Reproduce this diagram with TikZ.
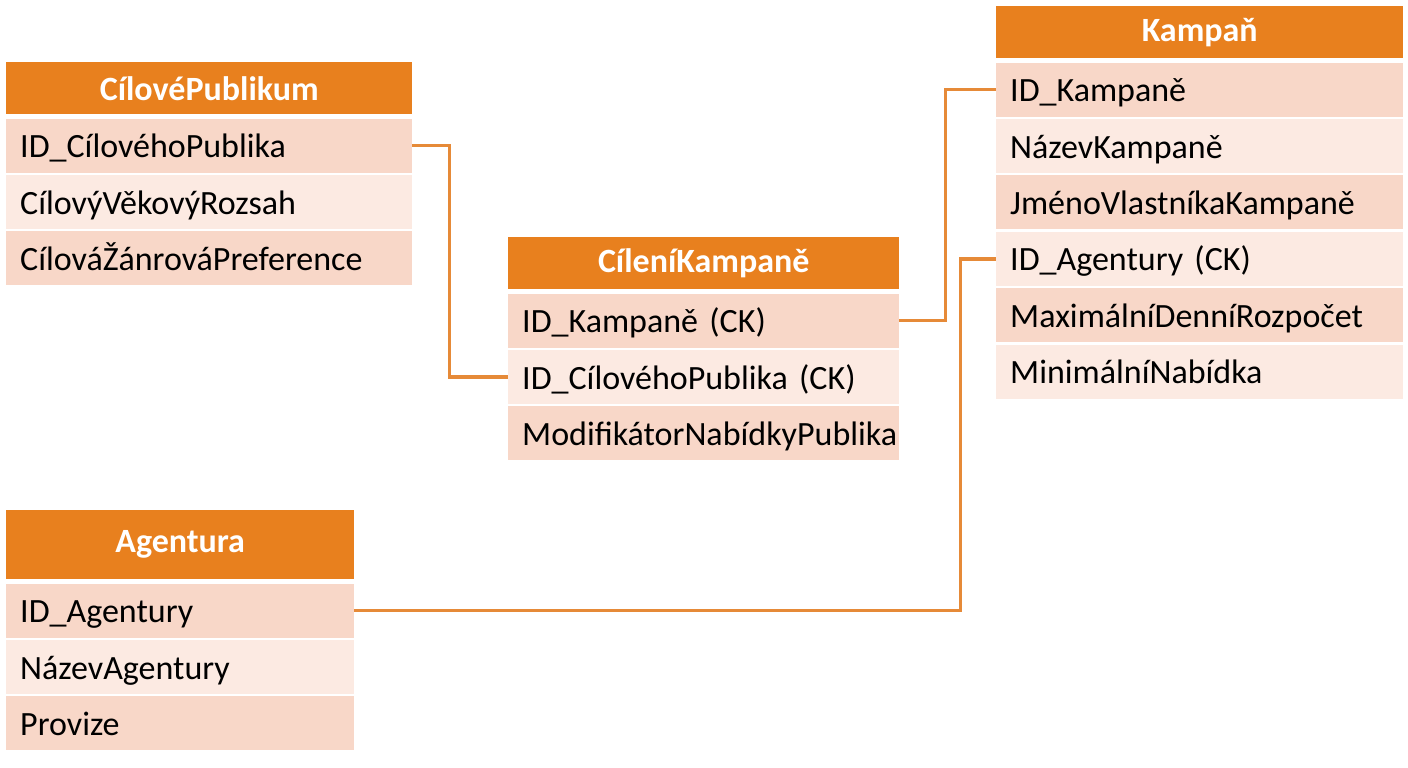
\documentclass[tikz,border=0pt]{standalone}
\usepackage{fontspec}
\setmainfont{Carlito}
\usepackage{tikz}
\usetikzlibrary{positioning}

\definecolor{hdorange}{RGB}{232,128,30}
\definecolor{rowD}{RGB}{248,215,200}
\definecolor{rowL}{RGB}{252,234,226}
\definecolor{linkor}{RGB}{230,138,56}

\tikzset{
  head/.style={fill=hdorange, text=white, font=\bfseries\fontsize{34}{40}\selectfont,
    minimum width=#1, minimum height=52pt, inner sep=0pt, anchor=north west},
  row/.style={font=\fontsize{34}{40}\selectfont, minimum height=54pt, inner ysep=0pt,
    inner xsep=14pt, align=left, text width=#1-28pt, text height=28pt, text depth=4pt},
  rowdark/.style={row=#1, fill=rowD},
  rowlight/.style={row=#1, fill=rowL},
  link/.style={draw=linkor, line width=3.5pt}
}

\begin{document}
\begin{tikzpicture}[x=1pt,y=-1pt]
\useasboundingbox[fill=white] (0,0) rectangle (1408,768);

% CilovePublikum
\node[head=406pt] (cpHead) at (6,62) {CílovéPublikum};
\node[rowdark=406pt,below=4pt of cpHead] (cp1) {ID\_CílovéhoPublika};
\node[rowlight=406pt,below=2pt of cp1] (cp2) {CílovýVěkovýRozsah};
\node[rowdark=406pt,below=2pt of cp2] (cp3) {CílováŽánrováPreference};

% CileniKampane
\node[head=391pt] (ckHead) at (508,237) {CíleníKampaně};
\node[rowdark=391pt,below=4pt of ckHead] (ck1) {ID\_Kampaně (CK)};
\node[rowlight=391pt,below=2pt of ck1] (ck2) {ID\_CílovéhoPublika (CK)};
\node[rowdark=391pt,below=2pt of ck2] (ck3) {ModifikátorNabídkyPublika};

% Kampan
\node[head=407pt] (kHead) at (996,6) {Kampaň};
\node[rowdark=407pt,below=4pt of kHead] (k1) {ID\_Kampaně};
\node[rowlight=407pt,below=2pt of k1] (k2) {NázevKampaně};
\node[rowdark=407pt,below=2pt of k2] (k3) {JménoVlastníkaKampaně};
\node[rowlight=407pt,below=2pt of k3] (k4) {ID\_Agentury (CK)};
\node[rowdark=407pt,below=2pt of k4] (k5) {MaximálníDenníRozpočet};
\node[rowlight=407pt,below=2pt of k5] (k6) {MinimálníNabídka};

% Agentura
\node[head=348pt,minimum height=69pt] (agHead) at (6,510) {Agentura};
\node[rowdark=348pt,below=4pt of agHead] (ag1) {ID\_Agentury};
\node[rowlight=348pt,below=2pt of ag1] (ag2) {NázevAgentury};
\node[rowdark=348pt,below=2pt of ag2] (ag3) {Provize};

% vazby
\draw[link] (cp1.east) -- ++(37,0) |- (ck2.west);
\draw[link] (ck1.east) -- ++(46,0) |- (k1.west);
\draw[link] (ag1.east) -- ++(606,0) |- (k4.west);
\end{tikzpicture}
\end{document}
